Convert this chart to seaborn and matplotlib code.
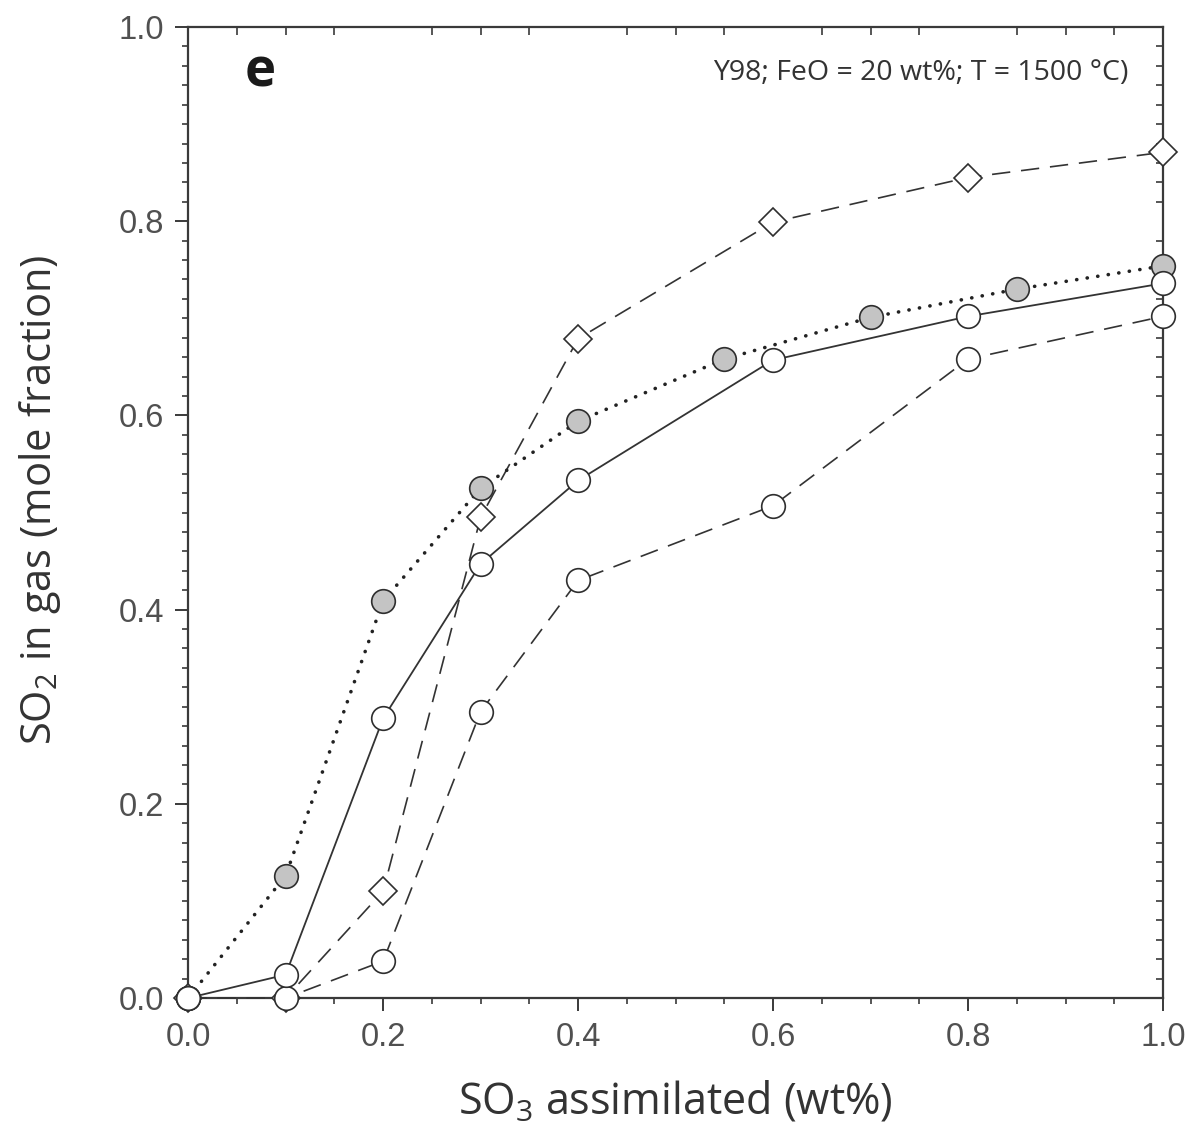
import numpy as np
import pandas as pd
import matplotlib
matplotlib.use("Agg")
import matplotlib.pyplot as plt
import seaborn as sns

# ---- data ----
x_gray = [0.0, 0.1, 0.2, 0.3, 0.4, 0.55, 0.7, 0.85, 1.0]
y_gray = [0.0, 0.126, 0.409, 0.525, 0.594, 0.658, 0.701, 0.730, 0.754]

x_solid = [0.0, 0.1, 0.2, 0.3, 0.4, 0.6, 0.8, 1.0]
y_solid = [0.0, 0.024, 0.288, 0.447, 0.533, 0.657, 0.702, 0.736]

x_diam = [0.0, 0.1, 0.2, 0.3, 0.4, 0.6, 0.8, 1.0]
y_diam = [0.0, 0.0, 0.110, 0.495, 0.679, 0.799, 0.845, 0.871]

x_dash = [0.0, 0.1, 0.2, 0.3, 0.4, 0.6, 0.8, 1.0]
y_dash = [0.0, 0.0, 0.038, 0.295, 0.430, 0.507, 0.658, 0.702]

x_ticks = [0.0, 0.2, 0.4, 0.6, 0.8, 1.0]
y_ticks = [0.0, 0.2, 0.4, 0.6, 0.8, 1.0]
tick_labels = ["0.0", "0.2", "0.4", "0.6", "0.8", "1.0"]

xlabel = "SO$_3$ assimilated (wt%)"
ylabel = "SO$_2$ in gas (mole fraction)"
annotation = "Y98; FeO = 20 wt%; T = 1500 °C)"
panel = "e"

# ---- style ----
sns.set_theme(style="white")
plt.rcParams["font.family"] = ["Open Sans", "DejaVu Sans"]
plt.rcParams["mathtext.fontset"] = "custom"
plt.rcParams["mathtext.rm"] = "Open Sans"
plt.rcParams["mathtext.default"] = "regular"

fig = plt.figure(figsize=(11.91, 11.35), dpi=100)
ax = fig.add_axes([0.158, 0.1207, 0.8185, 0.8555])
ax.set_facecolor("white")

edge = "#2e2e2e"
lcol = "#333333"

dfs = {
    "gray": pd.DataFrame({"x": x_gray, "y": y_gray}),
    "solid": pd.DataFrame({"x": x_solid, "y": y_solid}),
    "diam": pd.DataFrame({"x": x_diam, "y": y_diam}),
    "dash": pd.DataFrame({"x": x_dash, "y": y_dash}),
}

sns.lineplot(data=dfs["diam"], x="x", y="y", ax=ax, sort=False, color=lcol,
             linewidth=1.2, linestyle=(0, (11, 6.5)), marker="D", markersize=14,
             markerfacecolor="white", markeredgecolor=edge, markeredgewidth=1.2,
             clip_on=False, zorder=3)
sns.lineplot(data=dfs["dash"], x="x", y="y", ax=ax, sort=False, color=lcol,
             linewidth=1.2, linestyle=(0, (11, 6.5)), marker="o", markersize=17,
             markerfacecolor="white", markeredgecolor=edge, markeredgewidth=1.2,
             clip_on=False, zorder=3)
sns.lineplot(data=dfs["gray"], x="x", y="y", ax=ax, sort=False, color="#222222",
             linewidth=2.6, linestyle=(0, (0.05, 2.9)), dash_capstyle="round",
             marker="o", markersize=17,
             markerfacecolor="#c4c4c4", markeredgecolor=edge, markeredgewidth=1.2,
             clip_on=False, zorder=4)
sns.lineplot(data=dfs["solid"], x="x", y="y", ax=ax, sort=False, color=lcol,
             linewidth=1.3, linestyle="-", marker="o", markersize=17,
             markerfacecolor="white", markeredgecolor=edge, markeredgewidth=1.2,
             clip_on=False, zorder=5)

ax.set_xlim(0, 1.0)
ax.set_ylim(0, 1.0)
ax.set_xticks(x_ticks)
ax.set_yticks(y_ticks)
ax.set_xticklabels(tick_labels)
ax.set_yticklabels(tick_labels)
ax.set_xticks(np.arange(0, 1.0001, 0.05), minor=True)
ax.set_yticks(np.arange(0, 1.0001, 0.02), minor=True)

for s in ax.spines.values():
    s.set_color("#3a3a3a")
    s.set_linewidth(1.6)

ax.tick_params(axis="both", which="major", direction="out", length=9.5, width=1.4,
               color="#3a3a3a", labelsize=23.5, labelcolor="#505050", pad=8,
               bottom=True, left=True, top=False, right=False)
ax.tick_params(axis="both", which="minor", direction="out", length=4.5, width=1.2,
               color="#3a3a3a", bottom=True, left=True, top=False, right=False)
for lab in ax.get_xticklabels() + ax.get_yticklabels():
    lab.set_fontfamily(["Liberation Sans", "DejaVu Sans"])

# top/right mirrored minor ticks pointing inward
minor_x = [v for v in np.arange(0.05, 1.0, 0.05) if abs(v / 0.2 - round(v / 0.2)) > 1e-6]
minor_y = [v for v in np.arange(0.02, 1.0, 0.02) if abs(v / 0.2 - round(v / 0.2)) > 1e-6]
top = ax.secondary_xaxis("top")
top.set_xticks(minor_x)
top.set_xticklabels([])
top.tick_params(direction="in", length=5.5, width=1.2, color="#3a3a3a")
top.spines["top"].set_visible(False)
right = ax.secondary_yaxis("right")
right.set_yticks(minor_y)
right.set_yticklabels([])
right.tick_params(direction="in", length=5, width=1.2, color="#3a3a3a")
right.spines["right"].set_visible(False)

ax.set_xlabel(xlabel, fontsize=31, color="#333333", labelpad=19)
ax.set_ylabel(ylabel, fontsize=30, color="#333333", labelpad=40)
ax.yaxis.label.set_y(0.513)

ax.text(0.965, 0.953, annotation, transform=ax.transAxes, ha="right", va="center",
        fontsize=20.5, color="#333333")
ax.text(0.058, 0.953, panel, transform=ax.transAxes, ha="left", va="center",
        fontsize=38, fontweight="bold", color="#1a1a1a")

fig.savefig("out.png", dpi=100, facecolor="white")
